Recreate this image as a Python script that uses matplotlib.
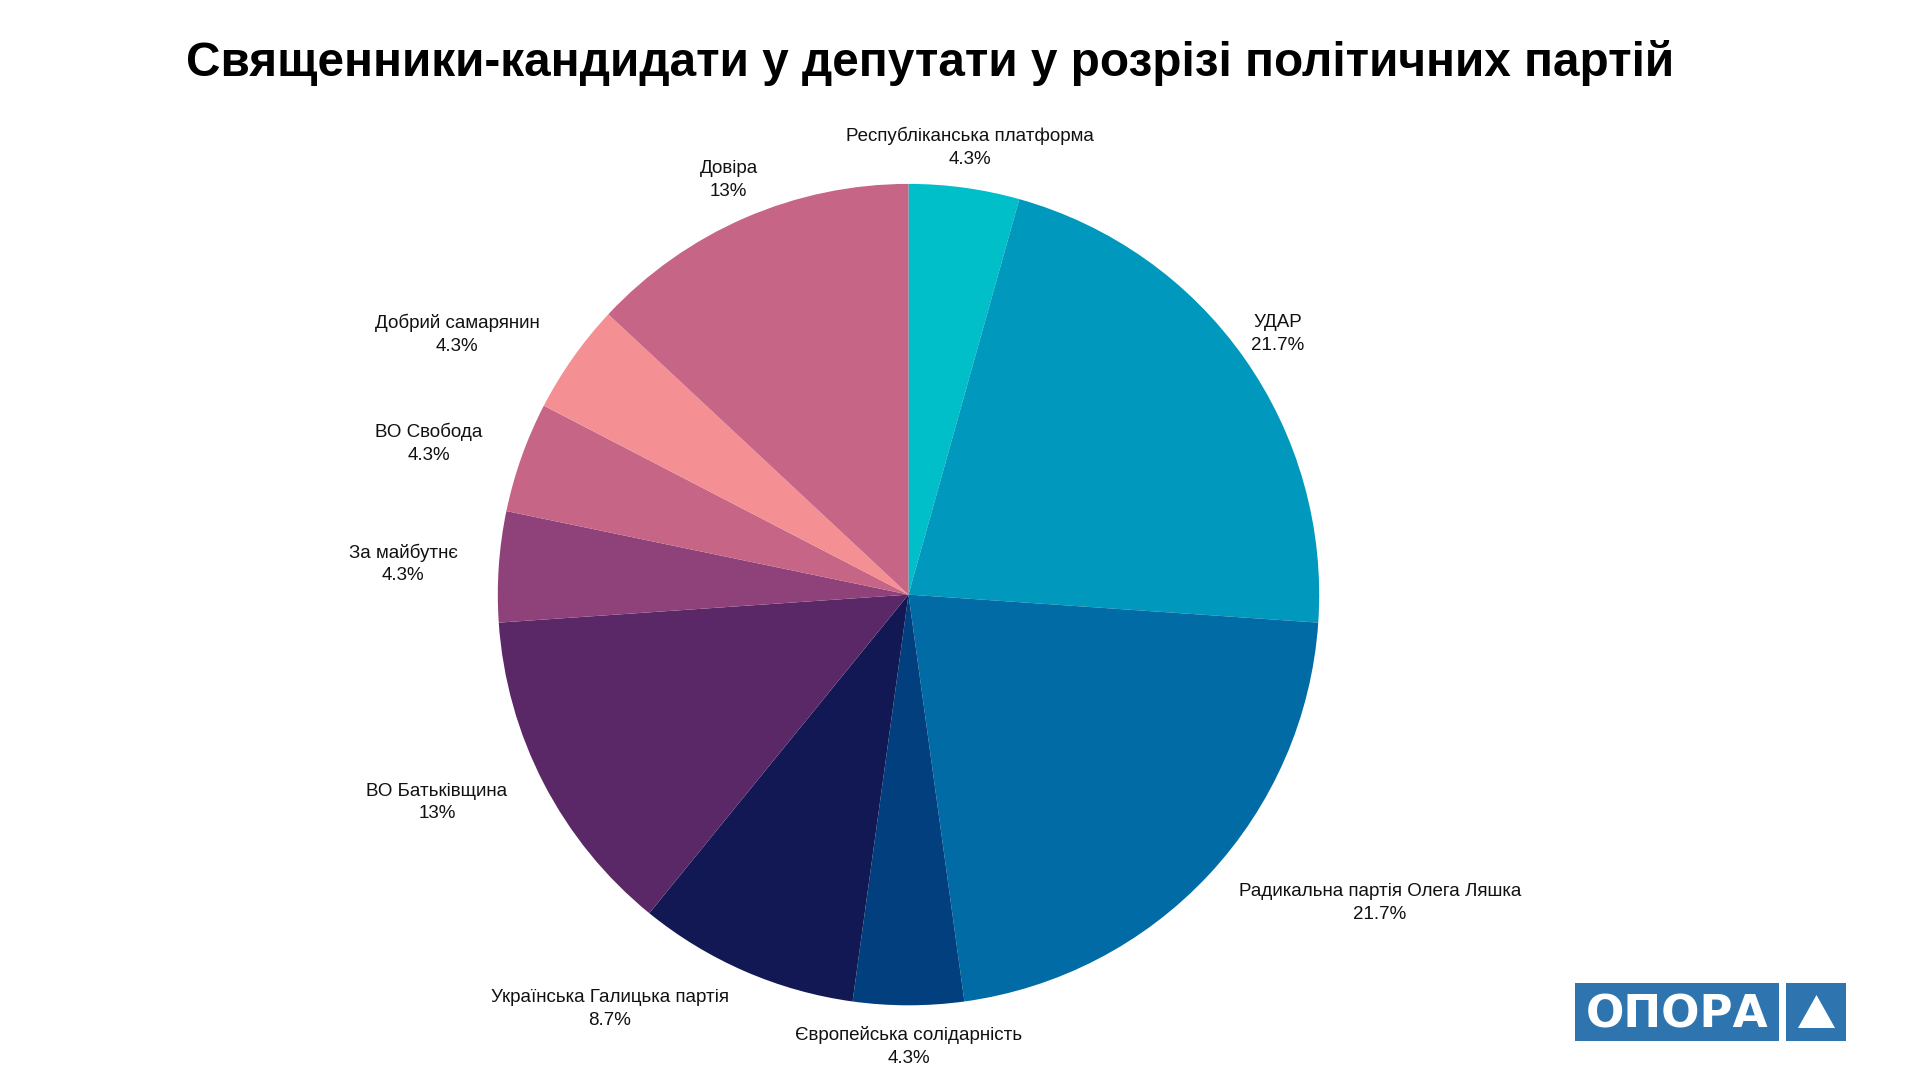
import matplotlib
matplotlib.use("Agg")
import matplotlib.pyplot as plt
import numpy as np
from matplotlib.patches import Rectangle, Polygon

parties = [
    "Республіканська платформа",
    "УДАР",
    "Радикальна партія Олега Ляшка",
    "Європейська солідарність",
    "Українська Галицька партія",
    "ВО Батьківщина",
    "За майбутнє",
    "ВО Свобода",
    "Добрий самарянин",
    "Довіра",
]
counts = [1, 5, 5, 1, 2, 3, 1, 1, 1, 3]
colors = ["#00BFC9", "#0099BD", "#006BA4", "#013F7E", "#111854",
          "#5B2867", "#8F427A", "#C66585", "#F48F93", "#C66585"]
label_ha = ["center", "center", "left", "center", "right",
            "right", "right", "right", "right", "center"]

title = "Священники-кандидати у депутати у розрізі політичних партій"

W, H = 1920, 1080
fig = plt.figure(figsize=(W / 100, H / 100), dpi=100)
ax = fig.add_axes([0, 0, 1, 1])

cx, cy, R = 908.5, H - 594.6, 410.7
total = sum(counts)
ax.pie(counts, colors=colors, startangle=90, counterclock=False,
       center=(cx, cy), radius=R, frame=True,
       wedgeprops=dict(linewidth=0, antialiased=True))
ax.set_xlim(0, W)
ax.set_ylim(0, H)
ax.set_aspect("equal")
ax.axis("off")


def fmt(v):
    p = round(v / total * 100, 1)
    s = f"{p:.1f}"
    if s.endswith(".0"):
        s = s[:-2]
    return s + "%"


cum = 0
for name, c, ha in zip(parties, counts, label_ha):
    mid = 90 - (cum + c / 2) / total * 360
    cum += c
    a = np.deg2rad(mid)
    x = cx + 1.1 * R * np.cos(a)
    y = cy + 1.1 * R * np.sin(a)
    ax.text(x, y, f"{name}\n{fmt(c)}", ha=ha, va="center", multialignment="center",
            fontsize=13.5, family="Liberation Sans", color="#111111", linespacing=1.45)

fig.text(930 / W, 1 - 76 / H, title, ha="center", va="baseline",
         fontsize=34.4, fontweight="bold", family="Liberation Sans", color="black")

# Logo
blue = "#2E75B0"
ax.add_patch(Rectangle((1575, H - 1041), 204, 58, color=blue, lw=0))
ax.add_patch(Rectangle((1786, H - 1041), 60, 58, color=blue, lw=0))
ax.add_patch(Polygon([(1798, H - 1028), (1835, H - 1028), (1816.5, H - 995)],
                     closed=True, color="white", lw=0))
ax.text(1677, H - 1027, "ОПОРА", ha="center", va="baseline", color="white",
        fontsize=32.6, fontweight="bold", family="DejaVu Sans")

fig.savefig("out.png", dpi=100, facecolor="white")
